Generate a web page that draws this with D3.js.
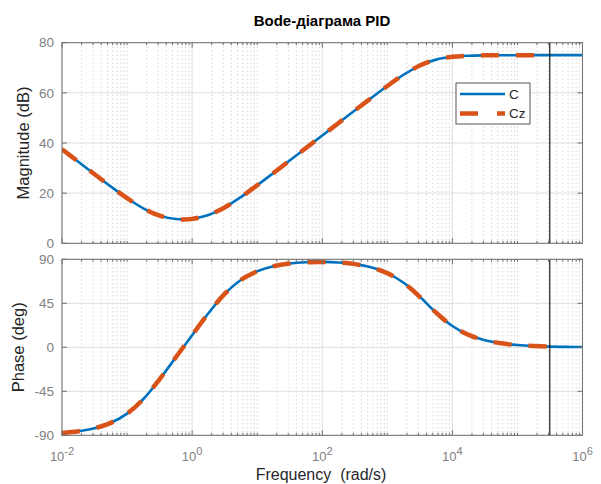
<!DOCTYPE html>
<html>
<head>
<meta charset="utf-8">
<script src="https://cdn.jsdelivr.net/npm/d3@7"></script>
<style>
  body { margin: 0; background: #fff; }
  svg { display: block; font-family: "Liberation Sans", Arial, sans-serif; }
</style>
</head>
<body>
<svg id="chart" width="601" height="484"></svg>
<script>
// values (rad/s, dB, deg)
const freqC = [0.01, 0.0178, 0.0316, 0.0562, 0.1, 0.178, 0.316, 0.562, 0.75, 1, 1.78, 3.16, 5.62, 10, 17.8, 31.6, 56.2,
    100, 178, 316, 562, 1000, 1778, 3162, 5623, 1e4, 17783, 31623, 56234, 1e5, 177828, 316228, 562341, 1e6];
const magC = [37.51, 32.52, 27.55, 22.67, 18.00, 13.93, 11.04, 9.68, 9.54, 9.75, 11.26, 14.29, 18.44, 23.14, 28.04, 33.00, 37.99,
    42.99, 47.98, 52.96, 57.90, 62.73, 67.21, 70.88, 73.25, 74.39, 74.82, 74.96, 75.01, 75.02, 75.03, 75.03, 75.03, 75.03];
const phaseC = [-87.71, -85.93, -82.78, -77.25, -67.82, -52.90, -32.70, -10.22, 1.10, 12.41, 34.80, 54.57, 68.88, 77.79, 82.91, 85.70, 87.03,
    87.35, 86.77, 85.09, 81.78, 75.84, 65.96, 51.63, 35.41, 21.79, 12.67, 7.21, 4.07, 2.29, 1.29, 0.72, 0.41, 0.23];

// discrete version stops at the Nyquist frequency
const freqCz = [0.01, 0.0178, 0.0316, 0.0562, 0.1, 0.178, 0.316, 0.562, 0.75, 1, 1.78, 3.16, 5.62, 10, 17.8, 31.6, 56.2,
    100, 178, 316, 562, 1000, 1778, 3162, 5623, 1e4, 17783, 31623, 56234, 1e5, 177828, 314159];
const magCz = [37.51, 32.52, 27.55, 22.67, 18.00, 13.93, 11.04, 9.68, 9.54, 9.75, 11.26, 14.29, 18.44, 23.14, 28.04, 33.00, 37.99,
    42.99, 47.98, 52.96, 57.90, 62.73, 67.21, 70.88, 73.25, 74.39, 74.82, 74.96, 75.01, 75.02, 75.03, 75.03];
const phaseCz = [-87.71, -85.93, -82.78, -77.25, -67.82, -52.90, -32.70, -10.22, 1.10, 12.41, 34.80, 54.57, 68.88, 77.79, 82.91, 85.70, 87.03,
    87.35, 86.77, 85.09, 81.78, 75.84, 65.96, 51.63, 35.41, 21.79, 12.67, 7.21, 4.07, 2.29, 1.29, 0.70];

const nyquistFreq = 314159;
const xTickExps = [-2, 0, 2, 4, 6];
const magTicks = [0, 20, 40, 60, 80];
const phaseTicks = [-90, -45, 0, 45, 90];
const seriesNames = ['C', 'Cz'];

const blue = '#0072BD';
const orange = '#D95319';
const boxColor = '#6f6f6f';

const svg = d3.select('#chart');
svg.append('rect').attr('width', 601).attr('height', 484).attr('fill', '#fff');

const x = d3.scaleLog().domain([1e-2, 1e6]).range([62, 582.5]);
const yMag = d3.scaleLinear().domain([0, 80]).range([243.3, 42.7]);
const yPhase = d3.scaleLinear().domain([-90, 90]).range([435.3, 259.3]);

// minor decades positions
let minorFreqs = [];
for (let k = -2; k < 6; k++) {
    for (let m = 1; m < 10; m++) {
        const f = m * Math.pow(10, k);
        if (!(m === 1 && k % 2 === 0)) minorFreqs.push(f);
    }
}
const majorFreqs = xTickExps.map(e => Math.pow(10, e));

function drawPanel(id, y, yTicks, series) {
    const [x0, x1] = x.range();
    const [yb, yt] = y.range();
    const g = svg.append('g').attr('id', id);

    g.append('clipPath').attr('id', id + '-clip')
        .append('rect').attr('x', x0).attr('y', yt).attr('width', x1 - x0).attr('height', yb - yt);

    // grid
    g.selectAll('.minor').data(minorFreqs).join('line')
        .attr('x1', d => x(d)).attr('x2', d => x(d)).attr('y1', yt).attr('y2', yb)
        .attr('stroke', '#c4c4c4').attr('stroke-width', 1).attr('stroke-dasharray', '1,3');
    g.selectAll('.majorx').data(majorFreqs).join('line')
        .attr('x1', d => x(d)).attr('x2', d => x(d)).attr('y1', yt).attr('y2', yb)
        .attr('stroke', '#dedede').attr('stroke-width', 1);
    g.selectAll('.majory').data(yTicks).join('line')
        .attr('x1', x0).attr('x2', x1).attr('y1', d => y(d)).attr('y2', d => y(d))
        .attr('stroke', '#dedede').attr('stroke-width', 1);

    // curves
    const plot = g.append('g').attr('clip-path', `url(#${id}-clip)`);
    for (const s of series) {
        const pts = s.freq.map((f, i) => [x(f), y(s.vals[i])]);
        plot.append('path')
            .attr('d', d3.line().curve(d3.curveCatmullRom.alpha(0.5))(pts))
            .attr('fill', 'none').attr('stroke', s.color).attr('stroke-width', s.width)
            .attr('stroke-dasharray', s.dash).attr('stroke-linejoin', 'round');
    }

    // Nyquist frequency line
    g.append('line').attr('x1', x(nyquistFreq)).attr('x2', x(nyquistFreq)).attr('y1', yt).attr('y2', yb)
        .attr('stroke', '#1a1a1a').attr('stroke-width', 1.2);

    // box + inward ticks
    g.append('rect').attr('x', x0).attr('y', yt).attr('width', x1 - x0).attr('height', yb - yt)
        .attr('fill', 'none').attr('stroke', boxColor).attr('stroke-width', 1);
    const tk = g.append('g').attr('stroke', boxColor).attr('stroke-width', 1);
    for (const f of minorFreqs) {
        tk.append('line').attr('x1', x(f)).attr('x2', x(f)).attr('y1', yb).attr('y2', yb - 2.5);
        tk.append('line').attr('x1', x(f)).attr('x2', x(f)).attr('y1', yt).attr('y2', yt + 2.5);
    }
    for (const f of majorFreqs) {
        tk.append('line').attr('x1', x(f)).attr('x2', x(f)).attr('y1', yb).attr('y2', yb - 5);
        tk.append('line').attr('x1', x(f)).attr('x2', x(f)).attr('y1', yt).attr('y2', yt + 5);
    }
    for (const v of yTicks) {
        tk.append('line').attr('x1', x0).attr('x2', x0 + 5).attr('y1', y(v)).attr('y2', y(v));
        tk.append('line').attr('x1', x1).attr('x2', x1 - 5).attr('y1', y(v)).attr('y2', y(v));
    }

    // y tick labels
    g.selectAll('.ylab').data(yTicks).join('text')
        .attr('x', 54).attr('y', d => y(d)).attr('dy', '0.35em')
        .attr('text-anchor', 'end').attr('font-size', 13.5).attr('fill', '#808080')
        .text(d => d);
    return g;
}

drawPanel('mag', yMag, magTicks, [
    {freq: freqC, vals: magC, color: blue, width: 2.6, dash: null},
    {freq: freqCz, vals: magCz, color: orange, width: 4.5, dash: '18,17'}
]);
drawPanel('phase', yPhase, phaseTicks, [
    {freq: freqC, vals: phaseC, color: blue, width: 2.6, dash: null},
    {freq: freqCz, vals: phaseCz, color: orange, width: 4.5, dash: '18,17'}
]);

// x tick labels, 10^n
const xl = svg.selectAll('.xlab').data(xTickExps).join('text')
    .attr('x', d => x(Math.pow(10, d))).attr('y', 461)
    .attr('text-anchor', 'middle').attr('font-size', 13).attr('fill', '#808080');
xl.append('tspan').text('10');
xl.append('tspan').attr('dy', -6).attr('font-size', 11).text(d => d);

// titles and labels
svg.append('text').attr('x', 322).attr('y', 26).attr('text-anchor', 'middle')
    .attr('font-size', 15).attr('font-weight', 'bold').attr('fill', '#000')
    .text('Bode-діаграма PID');
svg.append('text').attr('x', 321).attr('y', 480).attr('text-anchor', 'middle')
    .attr('font-size', 16).attr('fill', '#262626').style('white-space', 'pre')
    .text('Frequency  (rad/s)');
svg.append('text').attr('transform', `translate(29,${(yMag.range()[0] + yMag.range()[1]) / 2}) rotate(-90)`)
    .attr('text-anchor', 'middle').attr('font-size', 16.5).attr('fill', '#262626')
    .text('Magnitude (dB)');
svg.append('text').attr('transform', `translate(24,${(yPhase.range()[0] + yPhase.range()[1]) / 2}) rotate(-90)`)
    .attr('text-anchor', 'middle').attr('font-size', 16.5).attr('fill', '#262626')
    .text('Phase (deg)');

// legend
const lg = svg.append('g');
lg.append('rect').attr('x', 456).attr('y', 83).attr('width', 74).attr('height', 41)
    .attr('fill', '#fff').attr('stroke', '#555').attr('stroke-width', 1);
const legendStyles = [{color: blue, width: 2.6, dash: null}, {color: orange, width: 4.5, dash: '18,19'}];
seriesNames.forEach((name, i) => {
    const ly = 94 + i * 19.5;
    lg.append('line').attr('x1', 460).attr('x2', 505).attr('y1', ly).attr('y2', ly)
        .attr('stroke', legendStyles[i].color).attr('stroke-width', legendStyles[i].width)
        .attr('stroke-dasharray', legendStyles[i].dash);
    lg.append('text').attr('x', 509).attr('y', ly).attr('dy', '0.35em')
        .attr('font-size', 13.5).attr('fill', '#262626').text(name);
});
</script>
</body>
</html>
